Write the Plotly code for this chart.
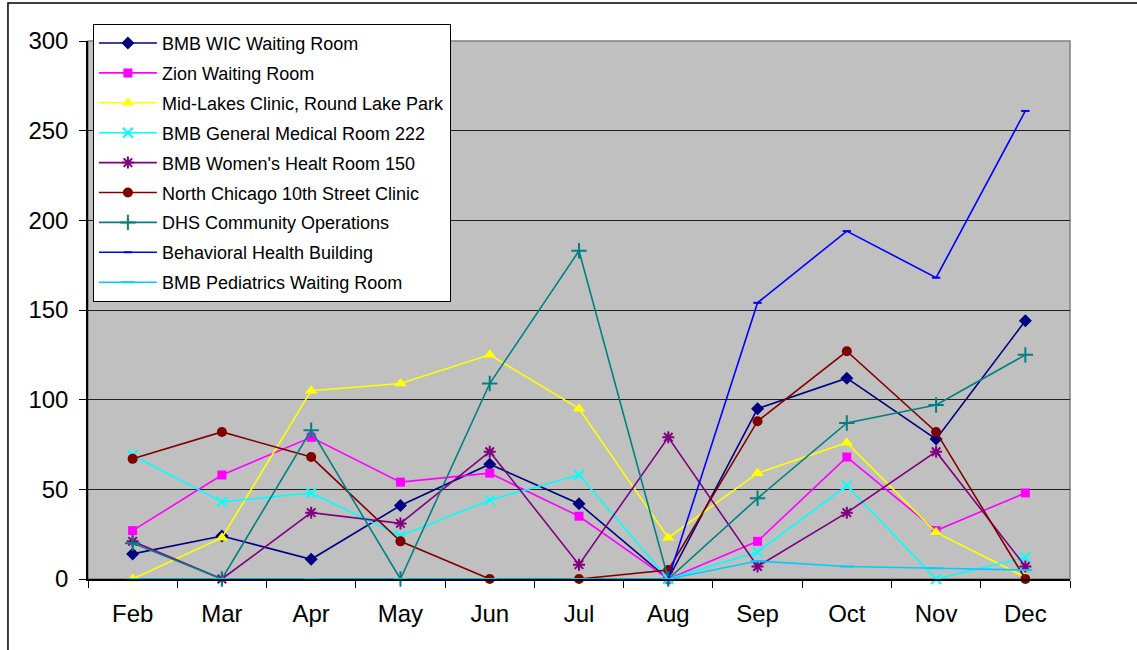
import plotly.graph_objects as go

# ── Data ─────────────────────────────────────────────────────────────────────
months = ["Feb", "Mar", "Apr", "May", "Jun", "Jul", "Aug", "Sep", "Oct", "Nov", "Dec"]

bmb_wic       = [14, 24, 11, 41, 64, 42, 0, 95, 112, 78, 144]
zion          = [27, 58, 79, 54, 59, 35, 0, 21, 68, 27, 48]
mid_lakes     = [0, 23, 105, 109, 125, 95, 23, 59, 76, 26, 1]
bmb_general   = [69, 43, 48, 24, 44, 58, 0, 15, 52, 0, 12]
bmb_women     = [21, 0, 37, 31, 71, 8, 79, 7, 37, 71, 7]
north_chicago = [67, 82, 68, 21, 0, 0, 5, 88, 127, 82, 0]
dhs_community = [20, 0, 83, 0, 109, 183, 0, 45, 87, 97, 125]
behavioral    = [0, 0, 0, 0, 0, 0, 0, 154, 194, 168, 261]
bmb_pediatric = [0, 0, 0, 0, 0, 0, 0, 10, 7, 6, 5]

series = [
    ("BMB WIC Waiting Room", bmb_wic, "#000080", "diamond", 10),
    ("Zion Waiting Room", zion, "#FF00FF", "square", 9),
    ("Mid-Lakes Clinic, Round Lake Park", mid_lakes, "#FFFF00", "triangle-up", 11),
    ("BMB General Medical Room 222", bmb_general, "#00FFFF", "x-thin", 10),
    ("BMB Women's Healt Room 150", bmb_women, "#800080", "asterisk", 10),
    ("North Chicago 10th Street Clinic", north_chicago, "#800000", "circle", 10),
    ("DHS Community Operations", dhs_community, "#008080", "cross-thin", 11),
    ("Behavioral Health Building", behavioral, "#0000FF", "line-ew", 6),
    ("BMB Pediatrics Waiting Room", bmb_pediatric, "#00CCFF", "line-ew", 10),
]

FONT = "Liberation Sans, Arial, sans-serif"

fig = go.Figure()

for i, (name, vals, colour, symbol, size) in enumerate(series):
    thin = "line" in symbol or "thin" in symbol or symbol == "asterisk"
    fig.add_trace(go.Scatter(
        x=months,
        y=vals,
        name=name,
        mode="lines+markers",
        legendgroup=f"g{i}",
        line=dict(color=colour, width=1.6),
        marker=dict(symbol=symbol, size=size, color=colour,
                    line=dict(color=colour, width=2 if thin else 0)),
        cliponaxis=False,
    ))

# outer chart frame
fig.add_shape(type="rect", xref="paper", yref="paper",
              x0=-0.0815, x1=1.2, y0=-0.3, y1=1.0706,
              line=dict(color="black", width=1.5), layer="below")
# plot area border (right/top grey)
fig.add_shape(type="rect", xref="paper", yref="paper",
              x0=0, x1=1, y0=0, y1=1,
              line=dict(color="#808080", width=1.5), layer="below")

fig.update_layout(
    width=1137, height=650,
    margin=dict(l=88, r=67, t=41, b=71),
    paper_bgcolor="white",
    plot_bgcolor="#C0C0C0",
    font=dict(family=FONT, size=17, color="black"),
    showlegend=True,
    legend=dict(
        x=0.005, y=1.032, xanchor="left", yanchor="top",
        bgcolor="white", bordercolor="black", borderwidth=1,
        font=dict(family=FONT, size=18),
        traceorder="grouped", tracegroupgap=3.5,
        itemwidth=58,
    ),
    xaxis=dict(
        range=[-0.5, 10.5],
        showgrid=False,
        showline=True, linecolor="black", linewidth=1.5,
        ticks="outside", ticklen=7, tickcolor="black",
        tickson="boundaries",
        tickfont=dict(size=24),
        ticklabelstandoff=12,
    ),
    yaxis=dict(
        range=[0, 300], dtick=50,
        showgrid=True, gridcolor="#202020", gridwidth=1,
        showline=True, linecolor="black", linewidth=1.5,
        ticks="outside", ticklen=7, tickcolor="black",
        tickfont=dict(size=24),
        ticklabelstandoff=6,
        zeroline=False,
    ),
)

# drop the default body margin so the figure sits at the page origin
fig.write_html("out.html", config={"displayModeBar": False},
               post_script="document.body.style.margin='0';")
